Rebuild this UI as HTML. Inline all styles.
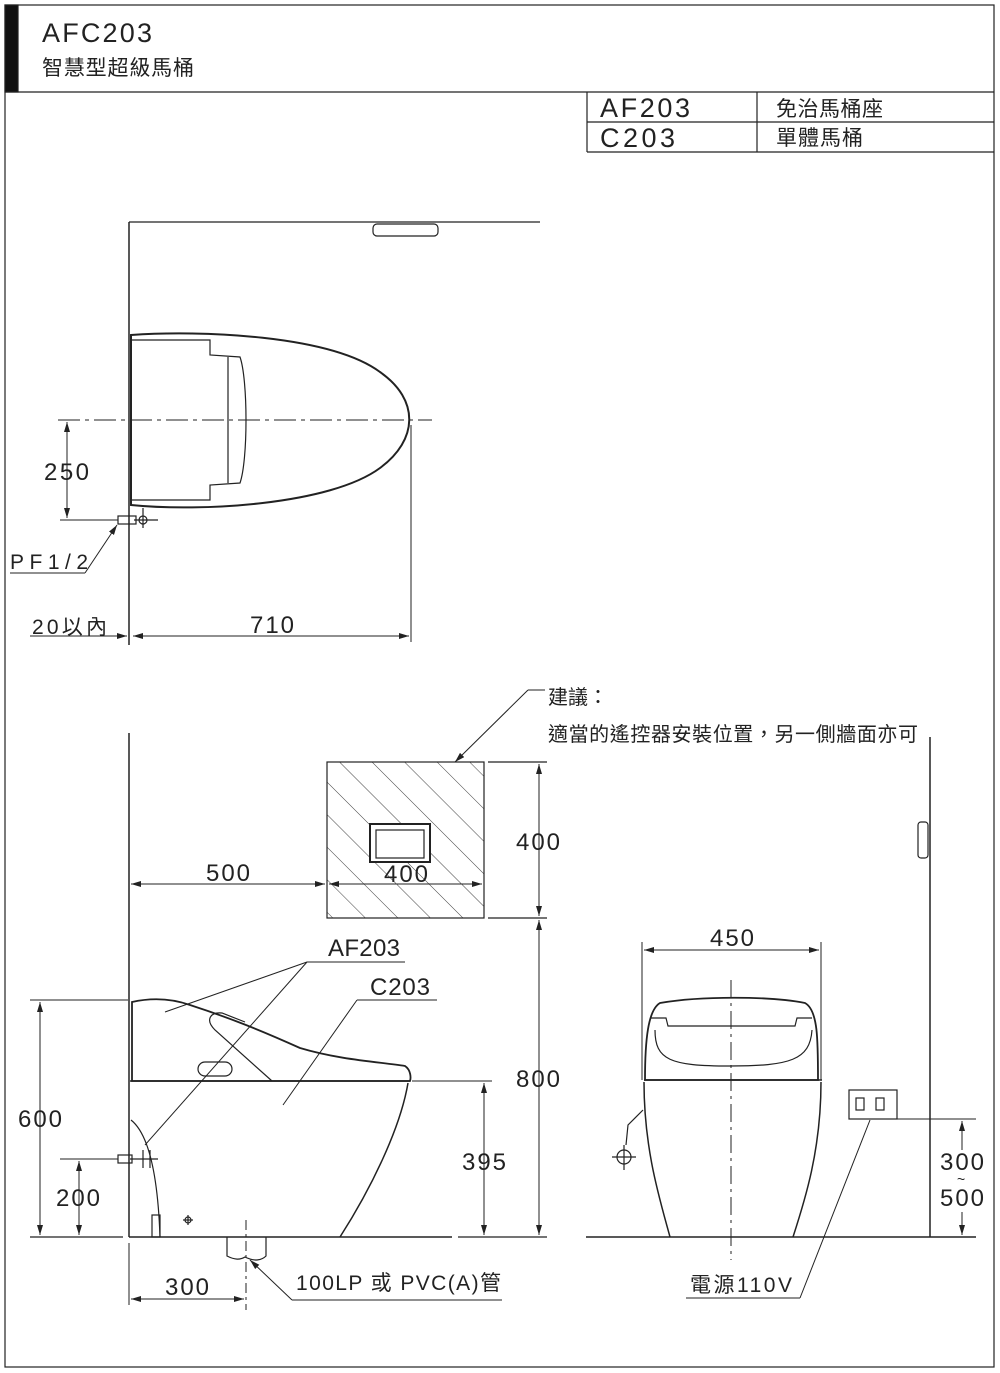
<!DOCTYPE html>
<html><head><meta charset="utf-8"><style>
html,body{margin:0;padding:0;background:#fff;}
svg{display:block;}
text{font-family:"Liberation Sans","Noto Sans CJK TC",sans-serif;fill:#222;}
</style></head><body>
<svg width="1000" height="1373" viewBox="0 0 1000 1373" xmlns="http://www.w3.org/2000/svg">
<defs>
<marker id="a" viewBox="0 0 10 6" refX="10" refY="3" markerWidth="10" markerHeight="6" orient="auto-start-reverse" markerUnits="userSpaceOnUse"><path d="M0,0 L10,3 L0,6 z" fill="#222"/></marker>
<pattern id="h" width="23" height="23" patternUnits="userSpaceOnUse" patternTransform="rotate(-45)"><line x1="0" y1="0" x2="0" y2="23" stroke="#444" stroke-width="1"/></pattern>
<clipPath id="bx"><rect x="327" y="762" width="157" height="156"/></clipPath>
</defs>
<g fill="none" stroke="#222" stroke-width="1.2">
<rect x="5" y="5" width="989" height="1362"/>
<rect x="5" y="5" width="13" height="87" fill="#111"/>
<line x1="5" y1="92" x2="994" y2="92"/>
<line x1="587" y1="92" x2="587" y2="152"/>
<line x1="757" y1="92" x2="757" y2="152"/>
<line x1="587" y1="122" x2="994" y2="122"/>
<line x1="587" y1="152" x2="994" y2="152"/>

<line x1="129" y1="222" x2="129" y2="645" stroke-width="1.5"/>
<line x1="129" y1="222" x2="540" y2="222"/>
<rect x="373" y="224" width="65" height="12" rx="4"/>
<path d="M131,335 C200,330 330,335 380,372 C420,400 418,440 380,468 C330,505 200,512 131,505 Z" stroke-width="2"/>
<path d="M131,340 L210,340 L210,355 L240,357 C248,380 248,460 240,483 L210,485 L210,500 L131,500"/>
<line x1="228" y1="357" x2="228" y2="483"/>
<line x1="58" y1="420" x2="432" y2="420" stroke-dasharray="22,5,4,5" stroke-width="1"/>
<line x1="60" y1="520" x2="118" y2="520" stroke-width="1"/>
<line x1="67" y1="422" x2="67" y2="518" marker-start="url(#a)" marker-end="url(#a)" stroke-width="1"/>
<rect x="118" y="516" width="18" height="8"/>
<circle cx="143" cy="520" r="4"/><line x1="134" y1="520" x2="158" y2="520"/><line x1="143" y1="508" x2="143" y2="528"/>
<line x1="10" y1="573" x2="85" y2="573" stroke-width="1"/>
<line x1="85" y1="573" x2="117" y2="525" marker-end="url(#a)" stroke-width="1"/>
<line x1="411" y1="425" x2="411" y2="642" stroke-width="1"/>
<line x1="133" y1="636" x2="409" y2="636" marker-start="url(#a)" marker-end="url(#a)" stroke-width="1"/>
<line x1="30" y1="636" x2="127" y2="636" marker-end="url(#a)" stroke-width="1"/>

<line x1="129" y1="733" x2="129" y2="1237" stroke-width="1.5"/>
<line x1="30" y1="1237" x2="123" y2="1237"/>
<line x1="129" y1="1237" x2="452" y2="1237" stroke-width="1.5"/>
<line x1="458" y1="1237" x2="547" y2="1237"/>
<rect x="327" y="762" width="157" height="156" fill="url(#h)" stroke="none" clip-path="url(#bx)"/>
<rect x="327" y="762" width="157" height="156"/>
<rect x="370" y="824" width="60" height="38" fill="#fff" stroke-width="2"/>
<rect x="376" y="830" width="48" height="28"/>
<line x1="488" y1="762" x2="547" y2="762"/><line x1="488" y1="918" x2="547" y2="918"/>
<line x1="539" y1="764" x2="539" y2="916" marker-start="url(#a)" marker-end="url(#a)" stroke-width="1"/>
<line x1="539" y1="920" x2="539" y2="1235" marker-start="url(#a)" marker-end="url(#a)" stroke-width="1"/>
<line x1="131" y1="884" x2="325" y2="884" marker-start="url(#a)" marker-end="url(#a)" stroke-width="1"/>
<line x1="329" y1="884" x2="482" y2="884" marker-start="url(#a)" marker-end="url(#a)" stroke-width="1"/>
<line x1="455" y1="762" x2="528" y2="690" marker-start="url(#a)" stroke-width="1"/>
<line x1="528" y1="690" x2="545" y2="690" stroke-width="1"/>
<path d="M132,1081 L132,1002 C150,998 170,998 190,1005 C230,1018 260,1030 300,1048 C340,1060 380,1062 405,1066 C411,1070 411,1078 410,1081 Z" stroke-width="1.8"/>
<path d="M272,1081 L215,1030 C205,1020 210,1012 222,1013 L245,1022"/>
<rect x="198" y="1062" width="34" height="14" rx="7"/>
<line x1="130" y1="1081" x2="410" y2="1081" stroke-width="1.5"/>
<path d="M408,1083 C400,1130 370,1190 340,1237" stroke-width="1.5"/>
<path d="M131,1120 C150,1135 158,1180 160,1237"/>
<rect x="152" y="1215" width="8" height="22"/>
<circle cx="188" cy="1220" r="3"/><line x1="183" y1="1220" x2="193" y2="1220"/><line x1="188" y1="1215" x2="188" y2="1225"/>
<path d="M227,1237 L227,1256 C235,1260 240,1260 245,1257 C255,1262 262,1260 266,1256 L266,1237"/>
<line x1="246" y1="1220" x2="246" y2="1310" stroke-dasharray="10,4,3,4" stroke-width="1"/>
<rect x="118" y="1155" width="14" height="8"/><line x1="130" y1="1159" x2="158" y2="1159"/><line x1="143" y1="1150" x2="143" y2="1168"/><line x1="150" y1="1150" x2="150" y2="1168"/>
<line x1="60" y1="1159" x2="118" y2="1159" stroke-width="1"/>
<line x1="30" y1="1000" x2="128" y2="1000" stroke-width="1"/>
<line x1="40" y1="1002" x2="40" y2="1235" marker-start="url(#a)" marker-end="url(#a)" stroke-width="1"/>
<line x1="79" y1="1161" x2="79" y2="1235" marker-start="url(#a)" marker-end="url(#a)" stroke-width="1"/>
<line x1="412" y1="1081" x2="492" y2="1081" stroke-width="1"/>
<line x1="484" y1="1083" x2="484" y2="1235" marker-start="url(#a)" marker-end="url(#a)" stroke-width="1"/>
<line x1="129" y1="1243" x2="129" y2="1305" stroke-width="1"/>
<line x1="131" y1="1299" x2="244" y2="1299" marker-start="url(#a)" marker-end="url(#a)" stroke-width="1"/>
<line x1="307" y1="962" x2="405" y2="962" stroke-width="1"/>
<line x1="307" y1="962" x2="165" y2="1012" stroke-width="1"/>
<line x1="307" y1="962" x2="145" y2="1145" stroke-width="1"/>
<line x1="357" y1="1000" x2="437" y2="1000" stroke-width="1"/>
<line x1="357" y1="1000" x2="283" y2="1105" stroke-width="1"/>
<line x1="292" y1="1300" x2="502" y2="1300" stroke-width="1"/>
<line x1="292" y1="1300" x2="250" y2="1260" marker-end="url(#a)" stroke-width="1"/>

<line x1="930" y1="737" x2="930" y2="1237" stroke-width="1.5"/>
<rect x="918" y="822" width="10" height="36" rx="3"/>
<line x1="586" y1="1237" x2="976" y2="1237" stroke-width="1.5"/>
<line x1="642" y1="942" x2="642" y2="1080" stroke-width="1"/>
<line x1="821" y1="942" x2="821" y2="1080" stroke-width="1"/>
<line x1="644" y1="950" x2="819" y2="950" marker-start="url(#a)" marker-end="url(#a)" stroke-width="1"/>
<path d="M645,1080 C645,1040 648,1010 660,1003 C700,996 770,996 805,1003 C818,1010 818,1040 818,1080 Z" stroke-width="1.8"/>
<path d="M650,1018 L666,1018 L668,1026 L795,1026 L797,1018 L812,1018"/>
<path d="M655,1030 C655,1060 670,1066 730,1066 C790,1066 810,1060 812,1030"/>
<line x1="644" y1="1080" x2="822" y2="1080" stroke-width="1.5"/>
<path d="M644,1082 C644,1150 660,1200 670,1237 M821,1082 C821,1150 805,1200 793,1237" stroke-width="1.5"/>
<line x1="731" y1="980" x2="731" y2="1260" stroke-dasharray="18,5,3,5" stroke-width="1"/>
<path d="M643,1110 L628,1125 L626,1145"/>
<circle cx="624" cy="1157" r="7"/><line x1="612" y1="1157" x2="636" y2="1157"/><line x1="624" y1="1145" x2="624" y2="1170"/>
<rect x="849" y="1090" width="48" height="29"/>
<rect x="856" y="1098" width="8" height="12"/><rect x="876" y="1098" width="8" height="12"/>
<line x1="897" y1="1119" x2="976" y2="1119" stroke-width="1"/>
<line x1="962" y1="1121" x2="962" y2="1150" marker-start="url(#a)" stroke-width="1"/>
<line x1="962" y1="1212" x2="962" y2="1235" marker-end="url(#a)" stroke-width="1"/>
<line x1="686" y1="1298" x2="800" y2="1298" stroke-width="1"/>
<line x1="800" y1="1298" x2="870" y2="1120" stroke-width="1"/>
</g>
<g font-size="24">
<text x="42" y="42" font-size="27" textLength="110">AFC203</text>
<text x="42" y="75" font-size="21" textLength="152">智慧型超級馬桶</text>
<text x="600" y="117" font-size="27" textLength="90">AF203</text>
<text x="600" y="147" font-size="27" textLength="75">C203</text>
<text x="776" y="116" font-size="21" textLength="107">免治馬桶座</text>
<text x="776" y="145" font-size="21" textLength="87">單體馬桶</text>
<text x="44" y="480" textLength="45">250</text>
<text x="10" y="569" font-size="21" textLength="78">PF1/2</text>
<text x="32" y="634" font-size="21" textLength="75">20以內</text>
<text x="250" y="633" textLength="44">710</text>
<text x="548" y="704" font-size="20">建議：</text>
<text x="548" y="741" font-size="20" textLength="370">適當的遙控器安裝位置，另一側牆面亦可</text>
<text x="516" y="850" textLength="44">400</text>
<text x="384" y="882" textLength="44">400</text>
<text x="206" y="881" textLength="44">500</text>
<text x="328" y="956" textLength="72">AF203</text>
<text x="370" y="995" textLength="60">C203</text>
<text x="516" y="1087" textLength="44">800</text>
<text x="462" y="1170" textLength="44">395</text>
<text x="18" y="1127" textLength="44">600</text>
<text x="56" y="1206" textLength="44">200</text>
<text x="165" y="1295" textLength="44">300</text>
<text x="296" y="1290" font-size="21" textLength="205">100LP 或 PVC(A)管</text>
<text x="710" y="946" textLength="44">450</text>
<text x="940" y="1170" textLength="44">300</text>
<text x="957" y="1184" font-size="14">~</text>
<text x="940" y="1206" textLength="44">500</text>
<text x="690" y="1292" font-size="21" textLength="102">電源110V</text>
</g>
</svg>
</body></html>
